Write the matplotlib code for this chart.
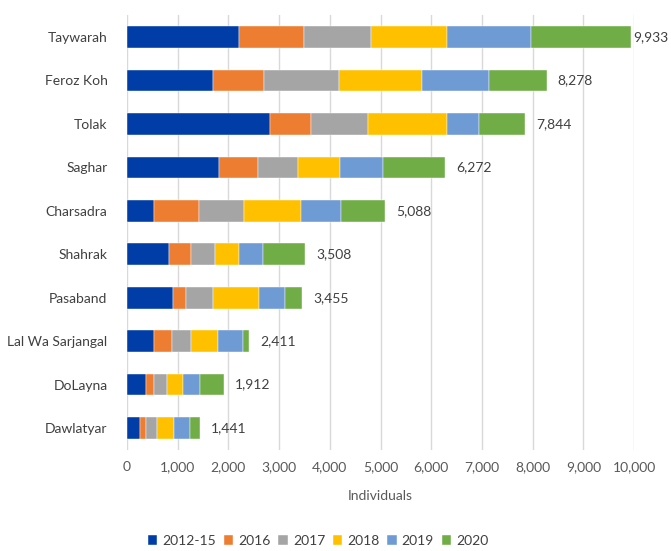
import matplotlib
matplotlib.use("Agg")
import matplotlib.pyplot as plt
import numpy as np

plt.rcParams['font.family'] = ['Lato', 'DejaVu Sans']

districts = ["Taywarah", "Feroz Koh", "Tolak", "Saghar", "Charsadra",
             "Shahrak", "Pasaband", "Lal Wa Sarjangal", "DoLayna", "Dawlatyar"]
periods = ["2012-15", "2016", "2017", "2018", "2019", "2020"]

v_2012_15 = [2204, 1691, 2816, 1809, 533, 822, 908, 533, 368, 250]
v_2016 = [1283, 1020, 809, 770, 881, 435, 250, 349, 158, 132]
v_2017 = [1322, 1467, 1125, 789, 889, 473, 539, 381, 257, 210]
v_2018 = [1500, 1631, 1559, 823, 1138, 487, 915, 540, 322, 329]
v_2019 = [1658, 1336, 638, 862, 776, 467, 513, 486, 342, 316]
v_2020 = [1966, 1133, 897, 1219, 871, 824, 330, 122, 465, 204]

series = [v_2012_15, v_2016, v_2017, v_2018, v_2019, v_2020]
colors = ["#003DA6", "#ED7D31", "#A5A5A5", "#FFC000", "#6F9BD5", "#70AD47"]

fig = plt.figure(figsize=(6.71, 5.51), dpi=100)
ax = fig.add_axes([0.1893, 0.1838, 0.7556, 0.7884])

y = np.arange(len(districts))
left = np.zeros(len(districts))
for name, vals, col in zip(periods, series, colors):
    vals = np.array(vals, dtype=float)
    ax.barh(y, vals, left=left, height=0.5, color=col, label=name,
            edgecolor="white", linewidth=0.3, zorder=3)
    left += vals

xmax = 10000
for yi, tot in zip(y, left):
    off = 2 if tot > 0.95 * xmax else 8
    ax.annotate(f"{int(round(tot)):,}", xy=(tot, yi), xytext=(off, 0),
                textcoords="offset points", ha="left", va="center",
                fontsize=10, color="#404040", annotation_clip=False)

ax.set_xlim(0, xmax)
ax.set_ylim(len(districts) - 0.5, -0.5)
ax.set_xticks(np.arange(0, 10001, 1000))
ax.set_xticklabels([f"{t:,}" for t in range(0, 10001, 1000)])
ax.set_yticks(y)
ax.set_yticklabels(districts)
ax.tick_params(axis="both", length=0, labelsize=10, colors="#404040")
ax.tick_params(axis="x", pad=8, colors="#595959")
ax.tick_params(axis="y", pad=14)
ax.xaxis.grid(True, color="#D9D9D9", linewidth=1, zorder=0)
ax.set_axisbelow(True)
for s in ax.spines.values():
    s.set_visible(False)

ax.set_xlabel("Individuals", fontsize=10, color="#595959", labelpad=12)

ax.legend(loc="center", bbox_to_anchor=(0.474, 0.018), bbox_transform=fig.transFigure,
          ncol=6, frameon=False, fontsize=10, handlelength=0.7, handleheight=0.7,
          handletextpad=0.35, columnspacing=0.55, labelcolor="#404040")

fig.savefig("out.png", dpi=100)
